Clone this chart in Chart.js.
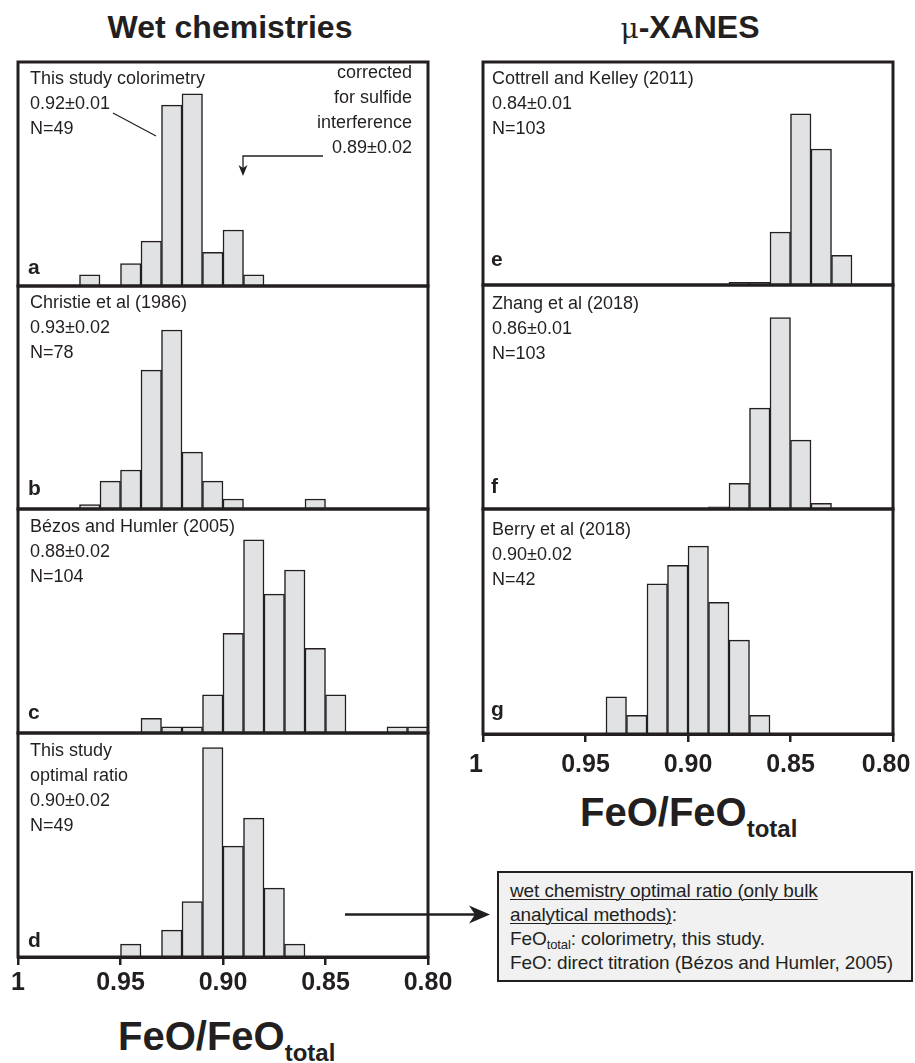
<!DOCTYPE html>
<html>
<head>
<meta charset="utf-8">
<script src="https://cdn.jsdelivr.net/npm/chart.js@4.4.1/dist/chart.umd.min.js"></script>
<style>
  body { margin: 0; background: #fff; }
  #page { position: relative; width: 915px; height: 1063px; overflow: hidden;
          font-family: "Liberation Sans", Arial, sans-serif; color: #231f20; }
  .panel { position: absolute; }
  .panel canvas { display: block; }
  .txt { position: absolute; font-size: 18px; line-height: 25px; white-space: nowrap; z-index: 4; }
  .right { text-align: right; }
  .lbl { position: absolute; font-size: 21px; font-weight: bold; line-height: 24px; z-index: 4; }
  .head { position: absolute; top: 11px; font-size: 32px; line-height: 32px; font-weight: bold;
          white-space: nowrap; transform: translateX(-50%); }
  .axt { position: absolute; font-size: 40px; line-height: 40px; font-weight: bold; white-space: nowrap; }
  .axt span { font-size: 24px; position: relative; top: 11px; }
  #note { position: absolute; left: 497px; top: 871px; width: 416px; height: 111px; box-sizing: border-box;
          border: 2.5px solid #231f20; background: #f1f1f2; padding: 6px 0 0 11px;
          font-size: 19px; line-height: 24px; white-space: nowrap; letter-spacing: -0.1px; }
  #note u { text-decoration-thickness: 1px; text-underline-offset: 2px; }
  #note sub { font-size: 13px; vertical-align: -4px; line-height: 0; }
  svg { position: absolute; left: 0; top: 0; z-index: 5; }
</style>
</head>
<body>
<div id="page">
  <div class="head" style="left:230px">Wet chemistries</div>
  <div class="head" style="left:690px"><span style="font-weight:normal;font-family:'DejaVu Serif',serif;font-size:28px">μ</span>-XANES</div>

  <div class="txt" style="left:30px;top:66px">This study colorimetry<br>0.92±0.01<br>N=49</div>
  <div class="txt right" style="right:503px;top:60px">corrected<br>for sulfide<br>interference<br>0.89±0.02</div>
  <div class="txt" style="left:30px;top:290px">Christie et al (1986)<br>0.93±0.02<br>N=78</div>
  <div class="txt" style="left:30px;top:514px">Bézos and Humler (2005)<br>0.88±0.02<br>N=104</div>
  <div class="txt" style="left:30px;top:738px">This study<br>optimal ratio<br>0.90±0.02<br>N=49</div>
  <div class="txt" style="left:492px;top:66px">Cottrell and Kelley (2011)<br>0.84±0.01<br>N=103</div>
  <div class="txt" style="left:492px;top:291px">Zhang et al (2018)<br>0.86±0.01<br>N=103</div>
  <div class="txt" style="left:492px;top:517px">Berry et al (2018)<br>0.90±0.02<br>N=42</div>

  <div class="lbl" style="left:28px;top:255px">a</div>
  <div class="lbl" style="left:28px;top:476px">b</div>
  <div class="lbl" style="left:28px;top:700px">c</div>
  <div class="lbl" style="left:28px;top:928px">d</div>
  <div class="lbl" style="left:491px;top:247px">e</div>
  <div class="lbl" style="left:491px;top:474px">f</div>
  <div class="lbl" style="left:491px;top:697px">g</div>

  <div class="axt" style="left:118px;top:1016px">FeO/FeO<span>total</span></div>
  <div class="axt" style="left:580px;top:792px">FeO/FeO<span>total</span></div>

  <div id="note"><u>wet chemistry optimal ratio (only bulk</u><br><u>analytical methods)</u>:<br>FeO<sub>total</sub>: colorimetry, this study.<br>FeO: direct titration (Bézos and Humler, 2005)</div>

  <svg width="915" height="1063">
    <line x1="113" y1="113" x2="156" y2="136" stroke="#231f20" stroke-width="1.2"/>
    <polyline points="323,156 243,156 243,168" fill="none" stroke="#231f20" stroke-width="1.3"/>
    <polygon points="238.5,165 243,168 247.5,165 243,176" fill="#231f20"/>
    <line x1="345" y1="914.5" x2="478" y2="914.5" stroke="#231f20" stroke-width="2.5"/>
    <polygon points="490,914.5 469,905.5 475,914.5 469,923.5" fill="#231f20"/>
  </svg>
</div>

<script>
// histogram bins of 0.01 FeO/FeOtotal, left (1.00) to right (0.80)
var bins = ["1.00-0.99", "0.99-0.98", "0.98-0.97", "0.97-0.96", "0.96-0.95",
            "0.95-0.94", "0.94-0.93", "0.93-0.92", "0.92-0.91", "0.91-0.90",
            "0.90-0.89", "0.89-0.88", "0.88-0.87", "0.87-0.86", "0.86-0.85",
            "0.85-0.84", "0.84-0.83", "0.83-0.82", "0.82-0.81", "0.81-0.80"];
var xTicks = [1, 0.95, 0.90, 0.85, 0.80];
var n = null;

// relative frequency per bin
var freqA = [n, n, n, 2.0, n, 4.0, 8.0, 32.3, 34.3, 6.0, 10.0, 2.0, n, n, n, n, n, n, n, n];
var freqB = [n, n, n, 0.8, 5.0, 7.0, 24.9, 32.1, 10.2, 5.0, 1.8, n, n, n, 1.8, n, n, n, n, n];
var freqC = [n, n, n, n, n, n, 2.6, 1.1, 1.1, 6.8, 17.8, 34.5, 24.8, 29.1, 15.1, 6.8, n, n, 1.1, 1.1];
var freqD = [n, n, n, n, n, 2.3, n, 4.8, 9.9, 37.4, 19.8, 24.8, 12.3, 2.3, n, n, n, n, n, n];
var freqE = [n, n, n, n, n, n, n, n, n, n, n, n, 0.5, 0.5, 9.5, 30.7, 24.4, 5.3, n, n];
var freqF = [n, n, n, n, n, n, n, n, n, n, n, 0.4, 4.6, 18.0, 34.2, 12.3, 1.0, n, n, n];
var freqG = [n, n, n, n, n, n, 6.6, 3.3, 26.7, 30.0, 33.4, 23.4, 16.7, 3.3, n, n, n, n, n, n];
var yMax = 40;

var ink = "#231f20";

// frame round each plot area
var framePlugin = {
  id: "frame",
  afterDraw: function(chart) {
    var a = chart.chartArea, ctx = chart.ctx;
    ctx.save();
    ctx.lineWidth = 3;
    ctx.strokeStyle = ink;
    ctx.strokeRect(a.left, a.top, a.right - a.left, a.bottom - a.top);
    ctx.restore();
  }
};

var panels = [
  { data: freqA, x: 18,  y: 62,  w: 410, h: 224 },
  { data: freqB, x: 18,  y: 286, w: 410, h: 223 },
  { data: freqC, x: 18,  y: 509, w: 410, h: 224 },
  { data: freqD, x: 18,  y: 733, w: 410, h: 224, axis: true, pad: 3 },
  { data: freqE, x: 483, y: 62,  w: 410, h: 223 },
  { data: freqF, x: 483, y: 285, w: 410, h: 224 },
  { data: freqG, x: 483, y: 509, w: 410, h: 225, axis: true, pad: 8, endsLeft: true }
];

var page = document.getElementById("page");

panels.forEach(function(p) {
  var padL = 40, padR = 60, padT = 3, padB = 3;
  var cw = p.w + padL + padR;
  var ch = p.h + padT + padB + (p.axis ? 50 : 0);

  var wrap = document.createElement("div");
  wrap.className = "panel";
  wrap.style.left = "0px"; wrap.style.top = "0px";
  wrap.style.width = cw + "px"; wrap.style.height = ch + "px";
  var canvas = document.createElement("canvas");
  canvas.width = cw; canvas.height = ch;
  canvas.style.width = cw + "px"; canvas.style.height = ch + "px";
  wrap.appendChild(canvas);
  page.appendChild(wrap);

  var chart = new Chart(canvas, {
    type: "bar",
    data: {
      labels: bins,
      datasets: [{
        data: p.data,
        xAxisID: "x",
        yAxisID: "y",
        backgroundColor: "#e1e2e4",
        borderColor: ink,
        borderWidth: 1.5,
        categoryPercentage: 1,
        barPercentage: 1
      }]
    },
    options: {
      responsive: false,
      maintainAspectRatio: false,
      animation: false,
      layout: { padding: { left: padL, right: padR, top: padT, bottom: padB } },
      plugins: { legend: { display: false }, tooltip: { enabled: false } },
      scales: {
        x: { display: false, offset: true },
        y: { display: false, min: 0, max: yMax },
        x2: {
          type: "linear",
          display: !!p.axis,
          position: "bottom",
          reverse: true,
          offset: false,
          min: 0.8,
          max: 1,
          afterBuildTicks: function(scale) {
            scale.ticks = xTicks.map(function(v) { return { value: v }; });
          },
          ticks: {
            autoSkip: false,
            maxRotation: 0,
            padding: p.pad || 6,
            color: ink,
            font: { family: "'Liberation Sans', Arial, sans-serif", size: 25, weight: "bold" },
            callback: function(v) {
              var s = v === 1 ? "1" : v.toFixed(2);
              // nudge the end labels left on the right-hand axis
              if (p.endsLeft && (v === 1 || v === 0.8)) s += "  ";
              return s;
            }
          },
          grid: { offset: false, drawOnChartArea: false, drawTicks: true, tickLength: 8, color: ink, lineWidth: 2.5 },
          border: { display: true, color: ink, width: 3 }
        }
      }
    },
    plugins: [framePlugin]
  });

  // fit the plot area to the panel box
  var diff = (chart.chartArea.bottom - chart.chartArea.top) - p.h;
  if (diff !== 0) {
    wrap.style.height = (ch - diff) + "px";
    chart.resize(cw, ch - diff);
  }
  wrap.style.left = (p.x - chart.chartArea.left) + "px";
  wrap.style.top = (p.y - chart.chartArea.top) + "px";
});
</script>
</body>
</html>
